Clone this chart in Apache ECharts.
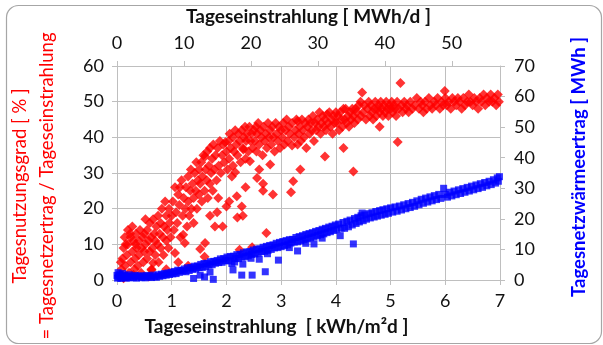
<!DOCTYPE html>
<html>
<head>
<meta charset="utf-8">
<script src="https://cdn.jsdelivr.net/npm/echarts@6/dist/echarts.min.js"></script>
<style>
  html, body { margin: 0; padding: 0; background: #fff; }
  #chart { width: 603px; height: 345px; }
</style>
</head>
<body>
<div id="chart"></div>
<script>
// Tageseinstrahlung [kWh/m²d] -> Tagesnutzungsgrad [%]
var nutzungsgrad = [
  [0.05,1],[0.08,3],[0.1,6],[0.12,9],[0.14,12],[0.15,4],[0.18,7],[0.2,14],[0.2,10],[0.22,2],
  [0.25,5],[0.25,12],[0.28,8],[0.28,15],[0.3,11],[0.32,3],[0.33,6],[0.35,13],[0.36,9],[0.38,4],
  [0.4,11],[0.4,7],[0.42,14],[0.44,2],[0.45,9],[0.47,12],[0.48,5],[0.5,8],[0.5,13],[0.12,0.5],
  [0.18,1],[0.07,5],[0.3,1.5],[0.16,10],[0.24,13],[0.34,10],
  [0.52,10],[0.55,6],[0.55,14],[0.58,11],[0.6,8],[0.6,16],[0.62,12],[0.63,3],[0.65,9],[0.66,17],
  [0.68,13],[0.7,7],[0.7,11],[0.72,15],[0.74,10],[0.75,18],[0.76,5],[0.78,13],[0.8,9],[0.8,16],
  [0.82,20],[0.84,12],[0.85,7],[0.86,15],[0.88,22],[0.9,11],[0.9,18],[0.92,14],[0.94,9],[0.95,20],
  [0.96,16],[0.98,12],[1.0,18],[0.66,4.8],[0.63,2.8],[0.58,1],[0.9,3],[0.52,17],
  [1.02,22],[1.04,14],[1.06,26],[1.06,7.6],[1.08,19],[1.1,16],[1.12,24],[1.14,21],[1.15,26],[1.16,12],
  [1.18,28],[1.2,18],[1.21,12.7],[1.22,23],[1.24,10.4],[1.25,20],[1.26,26],[1.28,15],[1.3,29],[1.3,22],
  [1.32,18],[1.34,25],[1.35,31],[1.36,20],[1.38,27],[1.4,23],[1.4,16],[1.42,30],[1.44,25],[1.45,33],
  [1.46,20],[1.48,28],[1.5,24],[1.5,31],[1.12,5],[1.3,4],
  [1.52,8.7],[1.52,27],[1.54,33],[1.55,22],[1.56,29],[1.58,35],[1.6,6.5],[1.61,10.4],[1.6,25],[1.61,34.6],
  [1.62,31],[1.64,28],[1.65,36],[1.66,23],[1.68,32],[1.7,27],[1.7,37],[1.72,30],[1.74,34],[1.75,25],
  [1.76,38],[1.78,31],[1.79,15],[1.8,35],[1.82,28],[1.83,19],[1.84,37],[1.86,32],[1.88,39],[1.9,30],
  [1.92,35],[1.93,15],[1.94,38],[1.96,33],[1.98,38.6],[2.0,36],[2.0,20.6],[1.7,18],[1.85,23],
  [2.02,31],[2.04,39],[2.05,34],[2.06,41],[2.08,37],[2.1,29],[2.12,32],[2.12,40],[2.14,36],[2.16,30.2],
  [2.16,42],[2.18,38],[2.19,23.5],[2.2,17.5],[2.2,35],[2.22,41],[2.24,8.5],[2.24,39],[2.26,33],[2.28,20.6],
  [2.28,42],[2.3,37],[2.31,36.6],[2.32,40],[2.34,43],[2.35,34],[2.36,39],[2.38,41],[2.4,36],[2.42,43],
  [2.43,33.3],[2.44,39],[2.46,41],[2.47,9.2],[2.48,37],[2.5,42],[2.05,22],[2.35,26],[2.3,18],
  [2.52,39],[2.54,43],[2.55,36],[2.56,28.6],[2.56,41],[2.58,44],[2.6,38],[2.62,42],[2.64,40],[2.66,35],
  [2.67,25],[2.67,27],[2.68,43],[2.7,39],[2.72,41],[2.73,13.2],[2.74,37],[2.76,44],[2.78,40],[2.8,32.4],
  [2.8,42],[2.82,38],[2.84,43],[2.86,40],[2.88,36],[2.9,44],[2.92,41],[2.94,39],[2.96,43],[2.98,37],
  [3.0,42],[2.6,31],[2.85,24],
  [3.02,40],[3.04,44],[3.06,38],[3.08,42],[3.1,45],[3.12,39],[3.14,43],[3.16,41],[3.18,24.6],[3.2,37.7],
  [3.22,27.7],[3.2,44],[3.24,40],[3.26,42],[3.28,45],[3.3,44.5],[3.3,38],[3.32,41],[3.34,43],[3.36,39],
  [3.38,45],[3.4,42],[3.42,40],[3.44,44],[3.46,37],[3.48,43],[3.5,45],[3.35,31],
  [3.52,41],[3.54,44],[3.56,42],[3.58,46],[3.6,39],[3.62,44],[3.64,42],[3.66,45],[3.68,43],[3.7,47],
  [3.72,41],[3.74,44],[3.76,46],[3.78,43],[3.8,34.6],[3.8,45],[3.82,42],[3.84,46.5],[3.86,44],[3.88,47],
  [3.9,43],[3.92,45],[3.94,41],[3.96,46],[3.98,44],[4.0,47],
  [4.02,44],[4.04,46],[4.06,42],[4.08,47],[4.1,45],[4.12,43],[4.14,37],[4.14,48],[4.16,45],[4.18,48],
  [4.2,44],[4.22,46],[4.24,43],[4.26,47],[4.28,45],[4.3,48],[4.32,30.4],[4.32,46],[4.34,44],[4.36,48],
  [4.38,47],[4.4,45],[4.42,49],[4.45,50],[4.46,46],[4.48,52.6],[4.5,47],[4.52,49],[4.55,45],[4.58,48],
  [4.6,50],
  [4.62,46],[4.64,49],[4.66,47],[4.68,45],[4.7,48],[4.72,50],[4.74,46],[4.76,48],[4.78,49],[4.8,43],
  [4.8,47],[4.82,50],[4.84,48],[4.86,46],[4.88,49],[4.9,47],[4.92,50],[4.94,48],[4.96,46],[4.98,49],
  [5.0,48],[5.02,50],[5.04,47],[5.06,49],[5.08,48],[5.1,46],[5.13,38.7],[5.12,50],[5.15,48],[5.18,55.2],
  [5.2,49],[5.22,47],[5.25,50],[5.28,48],[5.3,49],[5.33,47],[5.36,50],[5.4,48],[5.44,49],[5.48,51],
  [5.52,48],[5.55,50],[5.58,49],[5.6,47],[5.63,50],[5.66,48],[5.7,51],[5.73,49],[5.76,48],[5.8,50],
  [5.83,49],[5.86,51],[5.9,48],[5.93,50],[5.96,49],[5.99,53],[6.0,51],[6.03,49],[6.06,50],[6.1,48],
  [6.13,51],[6.16,50],[6.2,49],[6.23,51],[6.26,50],[6.3,48],[6.33,51],[6.36,49],[6.4,50],[6.43,52],
  [6.46,50],[6.5,49],[6.53,51],[6.56,50],[6.6,48],[6.63,51],[6.66,50],[6.7,52],[6.73,49],[6.76,51],
  [6.8,50],[6.83,52],[6.86,50],[6.9,51],[6.93,49],[6.96,52],[6.98,50]
];

// Tageseinstrahlung [kWh/m²d] -> Tagesnetzwärmeertrag [MWh]
var waermeertrag = [
  [0.0,1.5],[0.01,0.6],[0.02,2.4],[0.03,1.0],[0.05,1.9],[0.07,0.5],[0.09,1.3],[0.1,2.1],[0.12,0.8],[0.14,1.5],
  [0.17,0.6],[0.19,1.1],[0.22,1.7],[0.24,0.7],[0.27,1.2],[0.3,0.8],[0.33,1.5],[0.36,0.6],[0.39,1.1],[0.42,1.4],
  [0.45,0.8],[0.48,1.2],[0.51,0.7],[0.54,1.5],[0.57,1.0],[0.6,1.3],[0.63,0.8],[0.66,1.6],[0.69,1.1],[0.72,0.9],
  [0.75,1.7],[0.78,1.2],[0.81,1.9],[0.84,1.4],[0.87,2.1],[0.9,1.6],[0.93,2.3],[0.96,1.8],[0.99,2.5],
  [1.02,2.0],[1.05,2.8],[1.08,2.1],[1.11,3.2],[1.14,2.5],[1.17,3.1],[1.2,2.9],[1.23,3.6],[1.26,2.7],[1.29,4.0],
  [1.32,3.1],[1.35,4.1],[1.38,3.5],[1.41,4.5],[1.44,3.6],[1.47,4.6],[1.5,4.1],[1.52,1.6],[1.53,5.1],[1.56,4.1],
  [1.59,5.4],[1.62,4.4],[1.65,5.5],[1.68,4.9],[1.71,6.0],[1.74,5.0],[1.76,0.2],[1.77,6.1],[1.8,5.5],[1.83,6.4],
  [1.86,5.7],[1.89,6.9],[1.92,5.8],[1.95,7.0],[1.98,6.3],[1.4,0.5],[1.6,1.0],[1.7,2.6],
  [2.01,7.5],[2.04,6.3],[2.07,7.7],[2.1,5.4],[2.12,3.3],[2.13,7.8],[2.16,7.0],[2.19,8.3],[2.22,7.0],[2.25,8.4],
  [2.28,1.6],[2.28,7.5],[2.31,8.9],[2.34,7.6],[2.37,9.2],[2.4,7.9],[2.43,9.3],[2.46,8.4],[2.47,1.6],[2.49,9.8],
  [2.52,8.5],[2.55,10.1],[2.58,8.8],[2.61,10.2],[2.64,9.3],[2.67,10.7],[2.7,9.4],[2.71,2.7],[2.73,11.0],[2.76,9.7],
  [2.79,11.3],[2.82,10.0],[2.85,11.5],[2.88,10.5],[2.91,12.0],[2.94,10.6],[2.95,6.5],[2.97,12.3],[3.0,10.9],[2.3,5.2],
  [2.6,6.8],[2.15,5.9],[2.45,7.1],[2.75,8.6],
  [3.03,12.6],[3.06,11.2],[3.09,12.9],[3.12,11.5],[3.15,13.2],[3.18,12.1],[3.21,13.3],[3.24,12.4],[3.27,13.9],[3.3,12.5],
  [3.33,14.2],[3.36,12.8],[3.39,14.5],[3.42,13.1],[3.45,14.9],[3.48,13.5],[3.51,15.2],[3.54,13.8],[3.57,15.5],[3.6,14.1],
  [3.63,15.9],[3.66,14.5],[3.69,16.2],[3.72,14.8],[3.75,16.6],[3.78,15.1],[3.81,16.9],[3.84,15.5],[3.87,17.3],[3.9,15.8],
  [3.93,17.6],[3.96,16.2],[3.99,18.0],[3.3,9.5],[3.6,11.8],[3.15,10.6],[3.45,12.0],[3.75,13.7],
  [4.02,16.6],[4.05,18.3],[4.08,14.5],[4.1,17.0],[4.13,18.8],[4.16,16.9],[4.2,19.2],[4.23,17.4],[4.26,19.6],[4.3,18.0],
  [4.32,11.8],[4.34,20.1],[4.37,18.5],[4.4,20.5],[4.43,19.0],[4.46,21.0],[4.48,21.9],[4.5,19.4],[4.53,21.3],[4.56,19.9],
  [4.6,21.7],[4.63,20.3],[4.66,22.0],[4.7,20.6],[4.73,22.4],[4.76,20.9],[4.8,22.7],[4.83,21.2],[4.86,23.0],[4.9,21.5],
  [4.93,23.3],[4.96,21.8],[5.0,23.6],
  [5.04,22.2],[5.08,23.9],[5.12,22.5],[5.16,24.2],[5.2,22.9],[5.24,24.6],[5.28,23.3],[5.32,25.0],[5.36,23.7],[5.4,25.4],
  [5.44,24.1],[5.48,25.9],[5.52,24.6],[5.56,26.4],[5.6,25.1],[5.64,26.8],[5.68,25.5],[5.72,27.2],[5.76,25.9],[5.8,27.6],
  [5.84,26.3],[5.88,28.0],[5.92,26.7],[5.97,30.0],[6.0,28.0],
  [6.04,27.1],[6.08,28.7],[6.12,27.5],[6.16,29.1],[6.2,27.9],[6.24,29.5],[6.28,28.3],[6.32,29.9],[6.36,28.7],[6.4,30.3],
  [6.44,29.1],[6.48,30.7],[6.52,29.5],[6.56,31.1],[6.6,29.9],[6.64,31.5],[6.68,30.3],[6.72,31.9],[6.76,30.8],[6.8,32.3],
  [6.84,31.2],[6.88,32.8],[6.92,31.7],[6.95,33.4],[6.97,32.3],[6.99,33.8]
];

var kwhMax = 7;        // untere x-Achse
var mwhMax = 57.2;     // obere x-Achse (gleiche Strecke in MWh/d)
var pctMax = 60;
var mwhYMax = 70;

var gridColor = "#bfbfbf";
var font = "Lato, 'Open Sans', sans-serif";

var chart = echarts.init(document.getElementById("chart"));
chart.setOption({
  animation: false,
  backgroundColor: "#fff",
  textStyle: { fontFamily: font },
  graphic: [
    {
      type: "rect",
      left: 4, top: 3,
      shape: { width: 595, height: 338, r: 12 },
      style: { fill: "none", stroke: "#a6a6a6", lineWidth: 1.2 },
      z: -10
    },
    // linke Achsentitel (zweizeilig, gedreht)
    {
      type: "text",
      x: 20, y: 186,
      rotation: Math.PI / 2,
      style: {
        text: "Tagesnutzungsgrad [ % ]",
        fill: "#ff0000",
        font: "18.5px Lato, sans-serif",
        textAlign: "center",
        textVerticalAlign: "middle"
      }
    },
    {
      type: "text",
      x: 47, y: 186,
      rotation: Math.PI / 2,
      style: {
        text: "= Tagesnetzertrag / Tageseinstrahlung",
        fill: "#ff0000",
        font: "18.5px Lato, sans-serif",
        textAlign: "center",
        textVerticalAlign: "middle"
      }
    }
  ],
  grid: { left: 117, right: 103, top: 66, bottom: 65 },
  xAxis: [
    {
      type: "value",
      position: "bottom",
      min: 0, max: kwhMax, interval: 1,
      name: "Tageseinstrahlung  [ kWh/m²d ]",
      nameLocation: "middle",
      nameGap: 37,
      nameTextStyle: { fontSize: 19, fontWeight: "bold", color: "#111", padding: [0, 64, 0, 0] },
      axisLine: { show: true, onZero: false, lineStyle: { color: gridColor } },
      axisTick: { show: true, length: 5, lineStyle: { color: gridColor } },
      axisLabel: { fontSize: 18, color: "#111", margin: 12 },
      splitLine: { show: true, lineStyle: { color: gridColor } }
    },
    {
      type: "value",
      position: "top",
      min: 0, max: mwhMax, interval: 10,
      name: "Tageseinstrahlung [ MWh/d ]",
      nameLocation: "middle",
      nameGap: 40,
      nameTextStyle: { fontSize: 19, fontWeight: "bold", color: "#111" },
      axisLine: { show: true, onZero: false, lineStyle: { color: gridColor } },
      axisTick: { show: true, length: 5, lineStyle: { color: gridColor } },
      axisLabel: { fontSize: 18, color: "#111", margin: 14, showMaxLabel: false },
      splitLine: { show: false }
    }
  ],
  yAxis: [
    {
      type: "value",
      position: "left",
      min: 0, max: pctMax, interval: 10,
      axisLine: { show: true, onZero: false, lineStyle: { color: gridColor } },
      axisTick: { show: true, length: 5, lineStyle: { color: gridColor } },
      axisLabel: { fontSize: 18, color: "#111", margin: 13 },
      splitLine: { show: true, lineStyle: { color: gridColor } }
    },
    {
      type: "value",
      position: "right",
      min: 0, max: mwhYMax, interval: 10,
      name: "Tagesnetzwärmeertrag [ MWh ]",
      nameLocation: "middle",
      nameRotate: 90,
      nameGap: 70,
      nameTextStyle: { fontSize: 18.5, fontWeight: "bold", color: "#0000ff", padding: [0, 0, 0, 12] },
      axisLine: { show: true, onZero: false, lineStyle: { color: gridColor } },
      axisTick: { show: true, length: 5, lineStyle: { color: gridColor } },
      axisLabel: { fontSize: 18, color: "#111", margin: 14 },
      splitLine: { show: false }
    }
  ],
  series: [
    {
      name: "Tagesnutzungsgrad",
      type: "scatter",
      xAxisIndex: 0,
      yAxisIndex: 0,
      symbol: "diamond",
      symbolSize: 10,
      itemStyle: { color: "#ff0000" },
      data: nutzungsgrad
    },
    {
      name: "Tagesnetzwärmeertrag",
      type: "scatter",
      xAxisIndex: 0,
      yAxisIndex: 1,
      symbol: "rect",
      symbolSize: 7,
      itemStyle: { color: "#0000ff" },
      data: waermeertrag
    }
  ]
});
</script>
</body>
</html>
